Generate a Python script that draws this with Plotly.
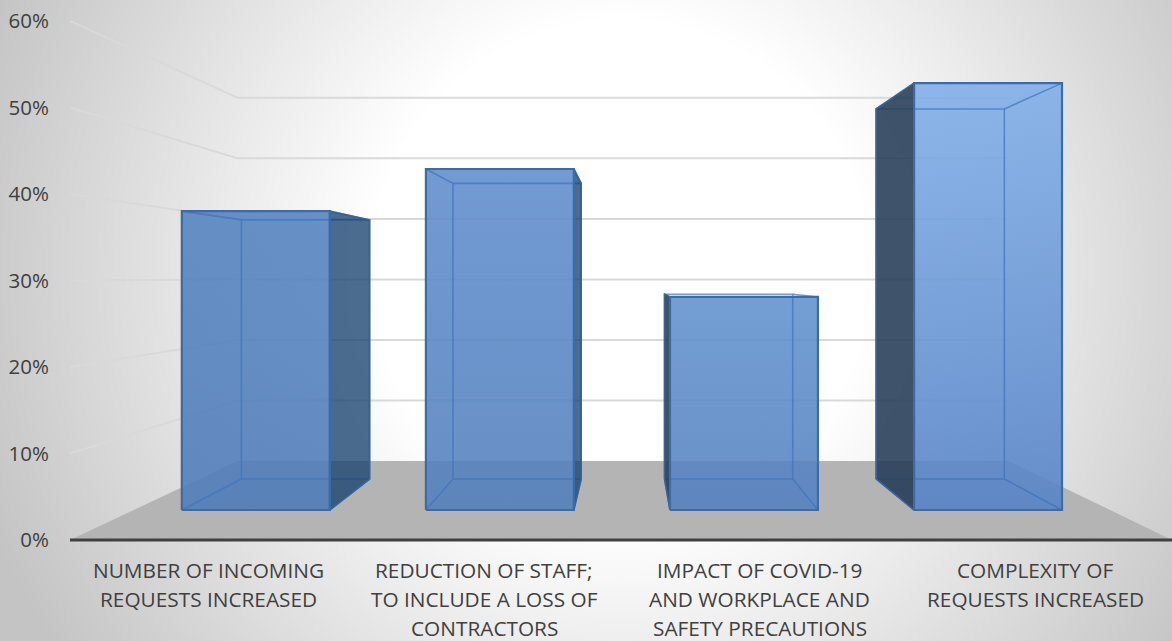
import numpy as np
import plotly.graph_objects as go

# ---- data -----------------------------------------------------------
category_lines = [
    ["NUMBER OF INCOMING", "REQUESTS INCREASED"],
    ["REDUCTION OF STAFF;", "TO INCLUDE A LOSS OF", "CONTRACTORS"],
    ["IMPACT OF COVID-19", "AND WORKPLACE AND", "SAFETY PRECAUTIONS"],
    ["COMPLEXITY OF", "REQUESTS INCREASED"],
]
values = [39.0, 44.5, 27.8, 55.7]
y_ticks = [0, 10, 20, 30, 40, 50, 60]
y_tick_labels = ["0%", "10%", "20%", "30%", "40%", "50%", "60%"]

# ---- perspective of the 3-D box (in axis units) ---------------------
W, H = 1172, 641
VX, VY = 1.529, 30.4       # vanishing point
S_BAR_FRONT, S_BAR_BACK, S_WALL = 0.886, 0.768, 0.70
HALF = 0.303
XMIN, XMAX = -0.5, 3.5
YMIN = -0.3


def proj(x, v, s):
    return VX + (x - VX) * s, VY + (v - VY) * s


front_top = ["rgba(83,131,191,0.88)", "rgba(95,140,205,0.88)", "rgba(96,146,207,0.88)", "rgba(127,174,233,0.88)"]
front_bot = ["rgba(79,124,187,0.88)", "rgba(82,128,190,0.88)", "rgba(84,128,192,0.88)", "rgba(85,130,198,0.88)"]

fig = go.Figure()

# ---- radial background ---------------------------------------------
gx = np.linspace(0, W, 118)
gy = np.linspace(0, H, 65)
X, Y = np.meshgrid(gx, gy)
R = np.hypot(X - 620, Y - 270)
Z = 255 - 59 * np.clip((R - 250) / 430, 0, 1)
fig.add_trace(go.Heatmap(x=gx, y=gy, z=Z, zmin=0, zmax=255, zsmooth="best", showscale=False,
                         colorscale=[[0, "rgb(0,0,0)"], [1, "rgb(255,255,255)"]],
                         hoverinfo="skip", xaxis="x", yaxis="y"))


def poly(xs, ys, **kw):
    fig.add_trace(go.Scatter(x=xs, y=ys, mode="lines", xaxis="x2", yaxis="y2", hoverinfo="skip",
                             showlegend=False, **kw))


# ---- floor ----------------------------------------------------------
fl = [proj(XMIN, 0, 1), proj(XMIN, 0, S_WALL), proj(XMAX, 0, S_WALL), proj(XMAX, 0, 1), proj(XMIN, 0, 1)]
poly([p[0] for p in fl], [p[1] for p in fl], fill="toself", fillcolor="#b4b4b4", line=dict(width=0))

# ---- gridlines on left wall and back wall ---------------------------
for t in y_ticks[1:]:
    pts = [proj(XMIN, t, 1), proj(XMIN, t, S_WALL), proj(XMAX, t, S_WALL)]
    poly([p[0] for p in pts], [p[1] for p in pts], line=dict(color="#d9d9d9", width=2))

# ---- category axis line ---------------------------------------------
poly([XMIN, XMAX], [0, 0], line=dict(color="#404040", width=3))

# ---- bars -----------------------------------------------------------
for i, v in enumerate(values):
    l, r = i - HALF, i + HALF
    f = [proj(l, 0, S_BAR_FRONT), proj(r, 0, S_BAR_FRONT), proj(r, v, S_BAR_FRONT), proj(l, v, S_BAR_FRONT)]
    b = [proj(l, 0, S_BAR_BACK), proj(r, 0, S_BAR_BACK), proj(r, v, S_BAR_BACK), proj(l, v, S_BAR_BACK)]
    # darker floor of the box
    q = [f[0], f[1], b[1], b[0], f[0]]
    poly([p[0] for p in q], [p[1] for p in q], fill="toself", fillcolor="rgba(40,70,120,0.06)", line=dict(width=0))
    # front face
    q = f + [f[0]]
    poly([p[0] for p in q], [p[1] for p in q], fill="toself", line=dict(width=0),
         fillgradient=dict(type="vertical",
                           colorscale=[[0, front_bot[i]], [1, front_top[i]]]))
    # back rectangle and depth edges
    q = b + [b[0]]
    poly([p[0] for p in q], [p[1] for p in q], line=dict(color="rgba(62,116,186,0.7)", width=1.6))
    for a, c in zip(f, b):
        poly([a[0], c[0]], [a[1], c[1]], line=dict(color="rgba(62,116,186,0.7)", width=1.6))
    # visible dark side face
    k = (1, 2) if r < VX else (0, 3)
    q = [f[k[0]], b[k[0]], b[k[1]], f[k[1]], f[k[0]]]
    dark = "rgba(26,66,112,0.78)" if r < VX else "rgba(36,60,85,0.88)"
    poly([p[0] for p in q], [p[1] for p in q], fill="toself", fillcolor=dark,
         line=dict(color="#3a6396", width=1.6))
    # front outline
    q = f + [f[0]]
    poly([p[0] for p in q], [p[1] for p in q], line=dict(color="#3c6ba5", width=2.2))

# ---- category labels ------------------------------------------------
LINE_Y = [570, 599, 628]
annotations = []
for i, lines in enumerate(category_lines):
    for j, txt in enumerate(lines):
        annotations.append(dict(x=i, xref="x2", y=1 - LINE_Y[j] / H, yref="paper", text=txt, showarrow=False,
                                xanchor="center", yanchor="middle", xshift=1,
                                font=dict(family="Open Sans", size=20.8, color="#404040")))

fig.update_layout(
    template="none",
    width=W, height=H, margin=dict(l=0, r=0, t=0, b=0, pad=0), showlegend=False,
    paper_bgcolor="white", plot_bgcolor="rgba(0,0,0,0)",
    annotations=annotations,
    xaxis=dict(domain=[0, 1], range=[0, W], visible=False, fixedrange=True, automargin=False),
    yaxis=dict(domain=[0, 1], range=[H, 0], visible=False, fixedrange=True, automargin=False),
    xaxis2=dict(domain=[70 / W, 1], range=[XMIN, XMAX], anchor="y2", showgrid=False, zeroline=False,
                showticklabels=False, ticks="", automargin=False, showline=False),
    yaxis2=dict(domain=[(101 + YMIN * 8.65) / H, 620 / H], range=[YMIN, 60], anchor="x2", showgrid=False,
                zeroline=False, tickvals=y_ticks, ticktext=y_tick_labels, ticks="outside", ticklen=16,
                automargin=False, tickcolor="rgba(0,0,0,0)", showline=False,
                tickfont=dict(family="Open Sans", size=20.5, color="#404040")),
)
fig.write_html("out.html", config={"displayModeBar": False},
               post_script="document.body.style.margin='0';document.documentElement.style.overflow='hidden';")
